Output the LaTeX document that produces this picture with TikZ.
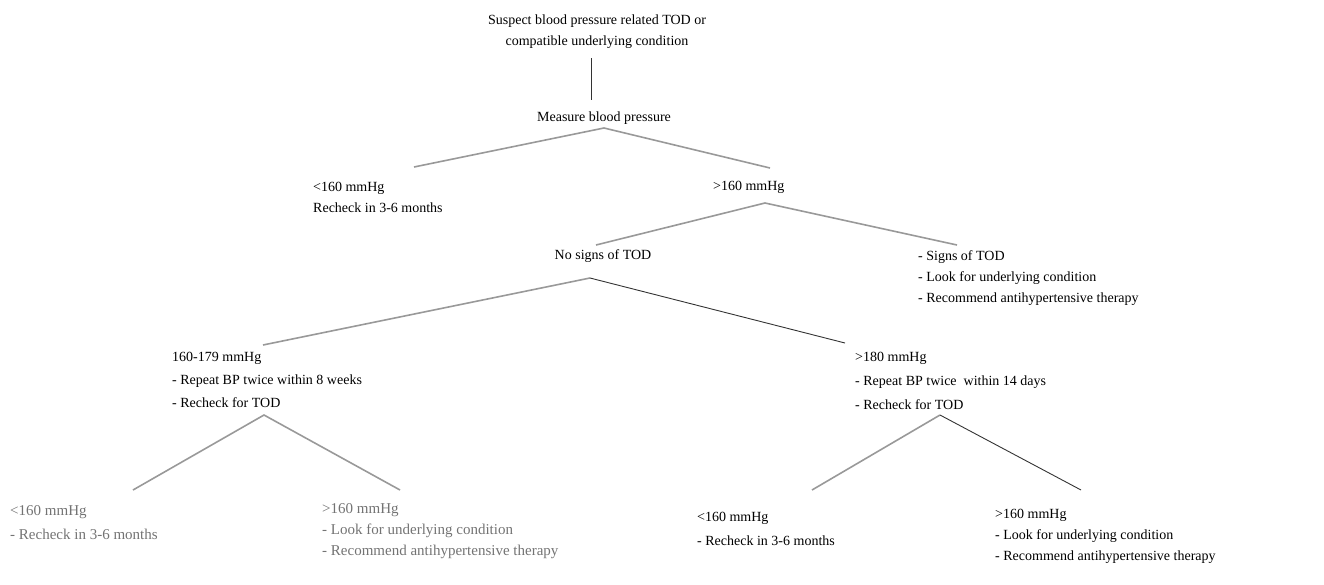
\documentclass[tikz,border=0pt]{standalone}
\usepackage{fontspec}
\setmainfont{Liberation Serif}
\begin{document}
\begin{tikzpicture}[x=1pt,y=-1pt,
  t/.style={anchor=west,align=left,inner sep=0pt,font=\fontsize{14}{21}\selectfont},
  tg/.style={t,text=black!55},
  gl/.style={draw=black!40,line width=1.6pt},
  dl/.style={draw=black!80,line width=0.9pt}]
\useasboundingbox (0,0) rectangle (1324,584);
\node[t,align=center,anchor=center] (a) at (597,32) {Suspect blood pressure related TOD or\\compatible underlying condition};
\node[t,anchor=center] (b) at (604,118) {Measure blood pressure};
\node[t] (c) at (313,197) {<160 mmHg\\Recheck in 3-6 months};
\node[t] (d) at (713,187) {>160 mmHg};
\node[t,anchor=center] (e) at (603,256) {No signs of TOD};
\node[t] (f) at (918,278) {- Signs of TOD\\- Look for underlying condition\\- Recommend antihypertensive therapy};
\node[t,font=\fontsize{14}{23}\selectfont] (g) at (172,380) {160-179 mmHg\\- Repeat BP twice within 8 weeks\\- Recheck for TOD};
\node[t,font=\fontsize{14}{24}\selectfont] (h) at (855,381) {>180 mmHg\\- Repeat BP twice\ \ within 14 days\\- Recheck for TOD};
\node[tg,font=\fontsize{15}{24}\selectfont] (i) at (10,523) {<160 mmHg\\- Recheck in 3-6 months};
\node[tg,font=\fontsize{15}{21}\selectfont] (j) at (322,531) {>160 mmHg\\- Look for underlying condition\\- Recommend antihypertensive therapy};
\node[t,font=\fontsize{14}{24}\selectfont] (k) at (697,529) {<160 mmHg\\- Recheck in 3-6 months};
\node[t,font=\fontsize{14}{21}\selectfont] (l) at (995,536) {>160 mmHg\\- Look for underlying condition\\- Recommend antihypertensive therapy};
\coordinate (p1) at (604,128);
\coordinate (p2) at (765,203);
\coordinate (p3) at (590,278);
\coordinate (p4) at (264,415);
\coordinate (p5) at (940,415);
\draw[dl] (591,58) -- (591,100);
\draw[gl] (414,167) -- (p1) -- (770,168);
\draw[gl] (596,245) -- (p2) -- (957,245);
\draw[gl] (263,345) -- (p3);
\draw[dl] (p3) -- (845,343);
\draw[gl] (133,490) -- (p4) -- (400,490);
\draw[gl] (812,490) -- (p5);
\draw[dl] (p5) -- (1081,490);
\end{tikzpicture}
\end{document}
